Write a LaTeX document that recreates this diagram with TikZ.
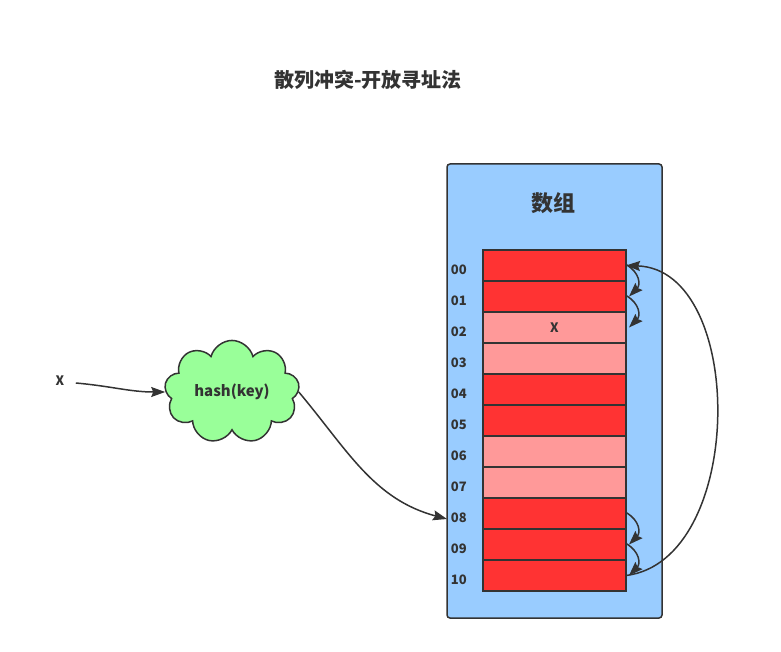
\documentclass[tikz,border=0pt]{standalone}
\usepackage{fontspec}
\setmainfont{Noto Sans CJK SC}
\usepackage{xcolor}
\usepackage{tikz}
\usetikzlibrary{arrows.meta,positioning,shapes.symbols}
\definecolor{inkdark}{HTML}{333333}
\definecolor{arrayblue}{HTML}{99CCFF}
\definecolor{slotred}{HTML}{FF3333}
\definecolor{slotpink}{HTML}{FF9999}
\definecolor{cloudgreen}{HTML}{99FF99}
\tikzset{
  slotfull/.style={
    rectangle, draw=inkdark, line width=1.5pt, fill=slotred,
    minimum width=143pt, minimum height=31pt, outer sep=0pt,
    inner sep=0pt, font=\bfseries\fontsize{13}{15}\selectfont, text=inkdark
  },
  slotfree/.style={slotfull, fill=slotpink},
  idxlabel/.style={
    font=\bfseries\fontsize{13}{15}\selectfont, text=inkdark,
    inner sep=0pt, yshift=-4pt
  },
  probearrow/.style={-{Stealth[length=14pt,width=10pt,inset=2pt]}, line width=1.5pt, color=inkdark},
}

\begin{document}
\begin{tikzpicture}[x=1pt,y=-1pt]
  \useasboundingbox (0,0) rectangle (781,652);

  \node[font=\bfseries\fontsize{20}{24}\selectfont, text=inkdark] (title) at (368,80) {散列冲突-开放寻址法};

  % array container
  \node[rectangle, rounded corners=3pt, draw=inkdark, line width=1.5pt, fill=arrayblue,
        minimum width=215pt, minimum height=454pt] (arr) at (554.5,391) {};
  \node[font=\bfseries\fontsize{22}{26}\selectfont, text=inkdark] (arrtitle) at (553,203) {数组};

  % slots
  \node[slotfull] (c0) at (554.5,265.5) {};
  \node[slotfull, below=0pt of c0] (c1) {};
  \node[slotfree, below=0pt of c1] (c2) {X};
  \node[slotfree, below=0pt of c2] (c3) {};
  \node[slotfull, below=0pt of c3] (c4) {};
  \node[slotfull, below=0pt of c4] (c5) {};
  \node[slotfree, below=0pt of c5] (c6) {};
  \node[slotfree, below=0pt of c6] (c7) {};
  \node[slotfull, below=0pt of c7] (c8) {};
  \node[slotfull, below=0pt of c8] (c9) {};
  \node[slotfull, below=0pt of c9] (c10) {};

  \node[idxlabel, left=16pt of c0] (i0) {00};
  \node[idxlabel, left=16pt of c1] (i1) {01};
  \node[idxlabel, left=16pt of c2] (i2) {02};
  \node[idxlabel, left=16pt of c3] (i3) {03};
  \node[idxlabel, left=16pt of c4] (i4) {04};
  \node[idxlabel, left=16pt of c5] (i5) {05};
  \node[idxlabel, left=16pt of c6] (i6) {06};
  \node[idxlabel, left=16pt of c7] (i7) {07};
  \node[idxlabel, left=16pt of c8] (i8) {08};
  \node[idxlabel, left=16pt of c9] (i9) {09};
  \node[idxlabel, left=16pt of c10] (i10) {10};

  % input and hash
  \node[font=\bfseries\fontsize{13}{15}\selectfont, text=inkdark] (xin) at (60,381) {X};
  \node[cloud, cloud puffs=9, aspect=1.5, draw=inkdark, line width=1.5pt, fill=cloudgreen,
        minimum width=135pt, minimum height=95pt, font=\bfseries\fontsize{15}{18}\selectfont,
        text=inkdark] (hash) at (232,392) {hash(key)};
  \coordinate (in8) at (447,519);

  \draw[probearrow] ([xshift=8pt,yshift=-2pt]xin.east) to[out=-5,in=180] (hash.west);
  \draw[probearrow] (hash.east) to[out=-50,in=165] (in8);

  % probing
  \draw[probearrow] ([yshift=1pt]c0.east) to[out=-30,in=45,looseness=1.3] ([xshift=3pt]c1.east);
  \draw[probearrow] ([yshift=1pt]c1.east) to[out=-30,in=45,looseness=1.3] ([xshift=3pt]c2.east);
  \draw[probearrow] ([yshift=1pt]c8.east) to[out=-30,in=45,looseness=1.3] ([xshift=3pt]c9.east);
  \draw[probearrow] ([yshift=1pt]c9.east) to[out=-30,in=45,looseness=1.3] ([xshift=3pt]c10.east);
  \draw[probearrow] (c10.east) to[out=7,in=-2] (c0.east);
\end{tikzpicture}
\end{document}
